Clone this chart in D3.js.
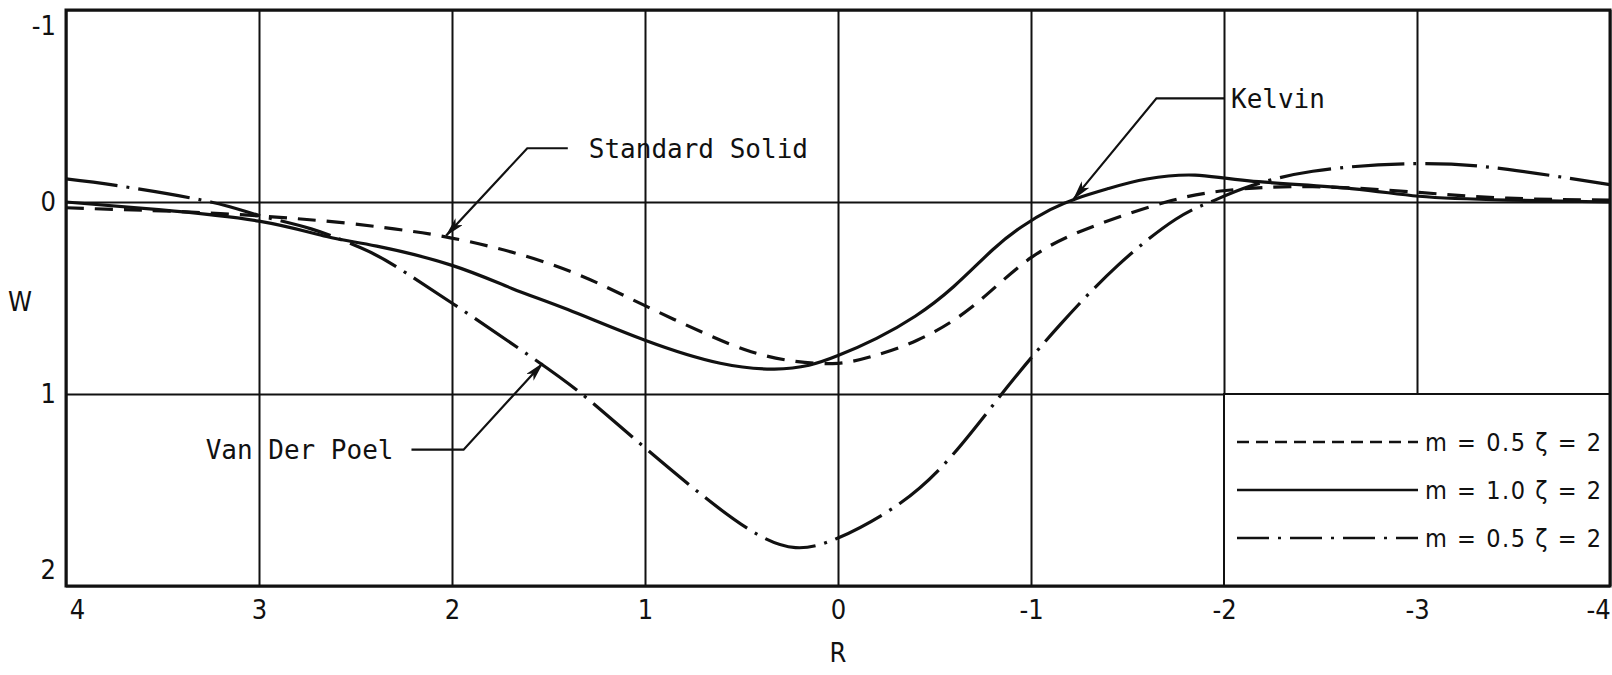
<!DOCTYPE html>
<html>
<head>
<meta charset="utf-8">
<script src="https://cdn.jsdelivr.net/npm/d3@7"></script>
<style>
  body { margin: 0; background: #fff; }
  svg { display: block; }
  .tick-lbl { font-family: "Liberation Sans Narrow", "DejaVu Sans Condensed", "Roboto Condensed", sans-serif; font-size: 27px; fill: #111; }
  .leg-lbl { font-family: "Liberation Sans Narrow", "DejaVu Sans Condensed", sans-serif; font-size: 25px; fill: #111; }
  .note { font-family: "DejaVu Sans Mono", monospace; font-size: 26px; fill: #111; }
  .grid line { stroke: #111; stroke-width: 2; }
</style>
</head>
<body>
<div id="chart"></div>
<script>
// axis ticks
var rTicks = [4, 3, 2, 1, 0, -1, -2, -3, -4];
var wTicks = [-1, 0, 1, 2];

// curves, [R, W]
var standardSolid = [
  [4, 0.03], [3.7, 0.04], [3.2, 0.06], [2.65, 0.10], [2.3, 0.14], [2.04, 0.18],
  [1.77, 0.24], [1.5, 0.32], [1.25, 0.42], [1.0, 0.54], [0.7, 0.68], [0.45, 0.78],
  [0.22, 0.83], [0.0, 0.84], [-0.19, 0.80], [-0.41, 0.72], [-0.69, 0.55], [-1.0, 0.29],
  [-1.34, 0.12], [-1.7, 0.0], [-2.01, -0.06], [-2.46, -0.08], [-3.01, -0.05],
  [-3.47, -0.02], [-4, -0.01]
];
var kelvin = [
  [4, 0.0], [3.52, 0.04], [3.0, 0.10], [2.65, 0.18], [2.39, 0.23], [2.0, 0.33],
  [1.69, 0.45], [1.4, 0.56], [1.0, 0.72], [0.61, 0.84], [0.33, 0.87], [0.15, 0.85],
  [0.0, 0.80], [-0.2, 0.71], [-0.4, 0.595], [-0.6, 0.44], [-0.8, 0.25], [-0.95, 0.13],
  [-1.1, 0.04], [-1.24, -0.02], [-1.4, -0.07], [-1.6, -0.12], [-1.85, -0.14],
  [-2.13, -0.11], [-2.66, -0.07], [-3.01, -0.03], [-3.47, -0.01], [-4, 0.0]
];
var vanDerPoel = [
  [4, -0.12], [3.7, -0.08], [3.25, 0.0], [3.0, 0.07], [2.73, 0.14], [2.47, 0.24],
  [2.3, 0.33], [1.95, 0.56], [1.6, 0.80], [1.34, 0.99], [1.07, 1.22], [0.7, 1.53],
  [0.42, 1.73], [0.22, 1.80], [0.0, 1.75], [-0.32, 1.57], [-0.6, 1.31], [-0.88, 0.96],
  [-1.15, 0.64], [-1.45, 0.33], [-1.75, 0.09], [-1.93, 0.0], [-2.1, -0.07],
  [-2.46, -0.16], [-3.01, -0.20], [-3.47, -0.17], [-4, -0.09]
];

var legendLabels = ["m = 0.5  \u03b6 = 2", "m = 1.0  \u03b6 = 2", "m = 0.5  \u03b6 = 2"];

// callouts: text, arrow tip, elbow, leader end (in R, W)
var notes = [
  {text: "Standard Solid", tip: [2.03, 0.175], elbow: [1.61, -0.28], end: [1.40, -0.28], side: "right", gap: 21},
  {text: "Kelvin", tip: [-1.22, -0.015], elbow: [-1.65, -0.54], end: [-2.0, -0.54], side: "right", gap: 7},
  {text: "Van Der Poel", tip: [1.53, 0.84], elbow: [1.94, 1.29], end: [2.21, 1.29], side: "left", gap: 18}
];

var margin = {top: 10, right: 2, bottom: 89, left: 66};
var width = 1612 - margin.left - margin.right;
var height = 675 - margin.top - margin.bottom;

var svg = d3.select("#chart").append("svg")
  .attr("width", width + margin.left + margin.right)
  .attr("height", height + margin.top + margin.bottom)
  .append("g")
  .attr("transform", "translate(" + margin.left + "," + margin.top + ")");

var x = d3.scaleLinear().domain([4, -4]).range([0, width]);
var y = d3.scaleLinear().domain([-1, 2]).range([0, height]);

svg.append("defs").append("marker")
  .attr("id", "arrow")
  .attr("viewBox", "0 0 20 10")
  .attr("refX", 19).attr("refY", 5)
  .attr("markerWidth", 20).attr("markerHeight", 10)
  .attr("markerUnits", "userSpaceOnUse")
  .attr("orient", "auto")
  .append("path").attr("d", "M0,0L20,5L0,10L5,5Z").attr("fill", "#111");

svg.select("defs").append("clipPath").attr("id", "plot")
  .append("rect").attr("width", width).attr("height", height);

// grid
svg.append("g").attr("class", "grid")
  .attr("transform", "translate(0," + height + ")")
  .call(d3.axisBottom(x).tickValues(rTicks).tickSize(-height).tickFormat(""))
  .call(function(g) { g.select(".domain").remove(); });

svg.append("g").attr("class", "grid")
  .call(d3.axisLeft(y).tickValues(wTicks).tickSize(-width).tickFormat(""))
  .call(function(g) { g.select(".domain").remove(); });

// curves
var line = d3.line()
  .x(function(d) { return x(d[0]); })
  .y(function(d) { return y(d[1]); })
  .curve(d3.curveNatural);

var series = [
  {pts: standardSolid, dash: "18,11"},
  {pts: kelvin, dash: null},
  {pts: vanDerPoel, dash: "52,9,3,9"}
];

svg.append("g").attr("clip-path", "url(#plot)")
  .selectAll("path").data(series).enter().append("path")
  .attr("d", function(d) { return line(d.pts); })
  .attr("fill", "none")
  .attr("stroke", "#111")
  .attr("stroke-width", 3.2)
  .attr("stroke-dasharray", function(d) { return d.dash; });

// legend box in the lower right cell block
var lx0 = x(-2), lx1 = x(-4), ly0 = y(1), ly1 = y(2);
var leg = svg.append("g");
leg.append("rect")
  .attr("x", lx0).attr("y", ly0)
  .attr("width", lx1 - lx0).attr("height", ly1 - ly0)
  .attr("fill", "#fff").attr("stroke", "#111").attr("stroke-width", 2);

var legDash = ["12,7", null, "32,9,3,9"];
legendLabels.forEach(function(lbl, i) {
  var ry = ly0 + (ly1 - ly0) * (i + 1) / 4;
  leg.append("line")
    .attr("x1", lx0 + 13).attr("x2", x(-3) + 1)
    .attr("y1", ry).attr("y2", ry)
    .attr("stroke", "#111").attr("stroke-width", 2.6)
    .attr("stroke-dasharray", legDash[i]);
  leg.append("text").attr("class", "leg-lbl")
    .attr("x", x(-3) + 8).attr("y", ry + 9)
    .attr("textLength", 176).attr("lengthAdjust", "spacing")
    .text(lbl);
});

// frame
svg.append("rect")
  .attr("width", width).attr("height", height)
  .attr("fill", "none").attr("stroke", "#111").attr("stroke-width", 3);

// tick labels
var xAxis = svg.append("g")
  .attr("transform", "translate(0," + height + ")")
  .call(d3.axisBottom(x).tickValues(rTicks).tickSize(0).tickPadding(14)
    .tickFormat(function(d) { return String(d); }));
xAxis.select(".domain").remove();
xAxis.selectAll("text").attr("class", "tick-lbl")
  .attr("dx", function(d) { return d === 4 ? 11 : d === -4 ? -12 : 0; });

var yAxis = svg.append("g")
  .call(d3.axisLeft(y).tickValues(wTicks).tickSize(0).tickPadding(10)
    .tickFormat(function(d) { return String(d); }));
yAxis.select(".domain").remove();
yAxis.selectAll("text").attr("class", "tick-lbl")
  .attr("y", function(d) { return d === -1 ? 16 : d === 2 ? -16 : 0; });

svg.append("text").attr("class", "tick-lbl")
  .attr("x", -46).attr("y", y(0.52)).attr("dy", "0.35em")
  .attr("text-anchor", "middle").text("W");
svg.append("text").attr("class", "tick-lbl")
  .attr("x", x(0)).attr("y", height + 76)
  .attr("text-anchor", "middle").text("R");

// callouts
notes.forEach(function(n) {
  var pts = [n.end, n.elbow, n.tip].map(function(p) { return [x(p[0]), y(p[1])]; });
  svg.append("path")
    .attr("d", d3.line()(pts))
    .attr("fill", "none").attr("stroke", "#111").attr("stroke-width", 2.2)
    .attr("marker-end", "url(#arrow)");
  svg.append("text").attr("class", "note")
    .attr("x", n.side === "right" ? pts[0][0] + n.gap : pts[0][0] - n.gap)
    .attr("y", pts[0][1]).attr("dy", "0.36em")
    .attr("text-anchor", n.side === "right" ? "start" : "end")
    .text(n.text);
});
</script>
</body>
</html>
